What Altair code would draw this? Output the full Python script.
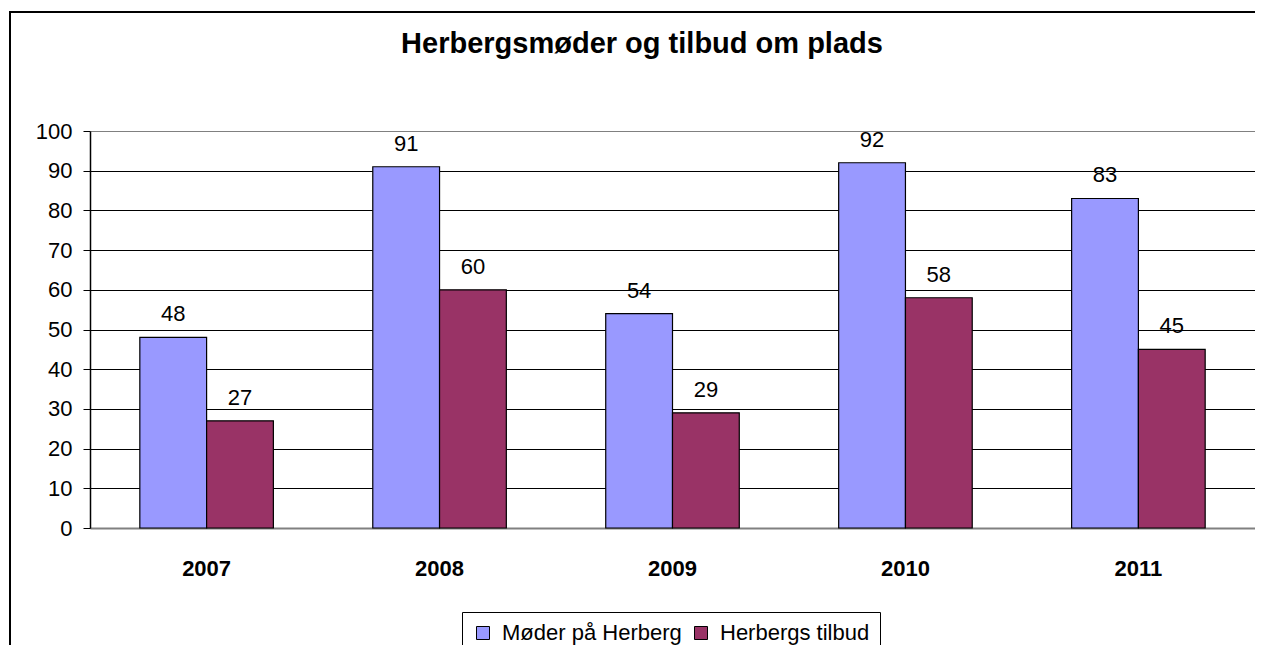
import altair as alt
import pandas as pd

years = ["2007", "2008", "2009", "2010", "2011"]
moder = [48, 91, 54, 92, 83]
tilbud = [27, 60, 29, 58, 45]
series = ["Møder på Herberg", "Herbergs tilbud"]
colors = ["#9999FF", "#993366"]
y_ticks = list(range(0, 101, 10))
title_text = "Herbergsmøder og tilbud om plads"

rows = []
for i, yr in enumerate(years):
    rows.append({"year": yr, "serie": series[0], "value": moder[i]})
    rows.append({"year": yr, "serie": series[1], "value": tilbud[i]})
df = pd.DataFrame(rows)

FONT = "Liberation Sans"
W, H = 1165, 397

x = alt.X(
    "year:N", sort=years, title=None,
    scale=alt.Scale(paddingInner=0.4267, paddingOuter=0.2139),
    axis=alt.Axis(labelAngle=0, labelFont=FONT, labelFontSize=22, labelFontWeight="bold",
                  labelColor="black", ticks=False, domainColor="#808080", domainWidth=2,
                  labelPadding=47, labelBaseline="alphabetic", grid=False),
)
y = alt.Y(
    "value:Q", title=None,
    scale=alt.Scale(domain=[0, 100], nice=False),
    axis=alt.Axis(values=y_ticks, labelFont=FONT, labelFontSize=22, labelColor="black",
                  tickColor="black", tickSize=7, labelPadding=11, domainColor="black",
                  domainWidth=1.5,
                  gridColor=alt.condition("datum.value == 0 || datum.value == 100",
                                          alt.value("#808080"), alt.value("black")),
                  gridOpacity=1, gridWidth=1.2),
)
xoff = alt.XOffset("serie:N", sort=series, scale=alt.Scale(paddingInner=0, paddingOuter=0))

bars = alt.Chart(df).mark_bar(stroke="black", strokeWidth=1.2).encode(
    x=x, xOffset=xoff, y=y,
    color=alt.Color(
        "serie:N", sort=series, scale=alt.Scale(domain=series, range=colors),
        legend=alt.Legend(title=None, orient="none", legendX=372, legendY=481,
                          direction="horizontal", labelFont=FONT, labelFontSize=22,
                          labelColor="black", labelLimit=0, symbolType="square",
                          symbolSize=169, symbolStrokeColor="black", symbolStrokeWidth=1,
                          symbolOpacity=1, strokeColor="black", fillColor="white",
                          padding=10, columnPadding=8, labelOffset=8),
    ),
)

labels = alt.Chart(df).mark_text(font=FONT, fontSize=22, baseline="alphabetic", dy=-16,
                                 color="black").encode(
    x=x, xOffset=xoff, y=y, text="value:Q"
)

one = pd.DataFrame({"f": [0]})
frame_left = alt.Chart(one).mark_rect(color="black", strokeWidth=0, clip=False).encode(
    x=alt.value(-81), x2=alt.value(-79), y=alt.value(-120), y2=alt.value(600))
frame_top = alt.Chart(one).mark_rule(color="black", strokeWidth=2, clip=False).encode(
    x=alt.value(-81), x2=alt.value(1300), y=alt.value(-119), y2=alt.value(-119))

title = alt.Chart(one).mark_text(font=FONT, fontSize=29, fontWeight="bold", color="black",
                                 align="center", baseline="alphabetic").encode(
    x=alt.value(552), y=alt.value(-78), text=alt.value(title_text))

chart = alt.layer(frame_top, frame_left, bars, labels, title).properties(
    width=W, height=H,
    padding={"left": 82, "top": 123, "right": 0, "bottom": 117},
    autosize=alt.AutoSizeParams(type="none"),
).configure_view(fill="#C0C0C0", stroke="#808080", strokeWidth=2).configure(background="white")

chart.save("out.html", embed_options={"renderer": "svg", "actions": False})
